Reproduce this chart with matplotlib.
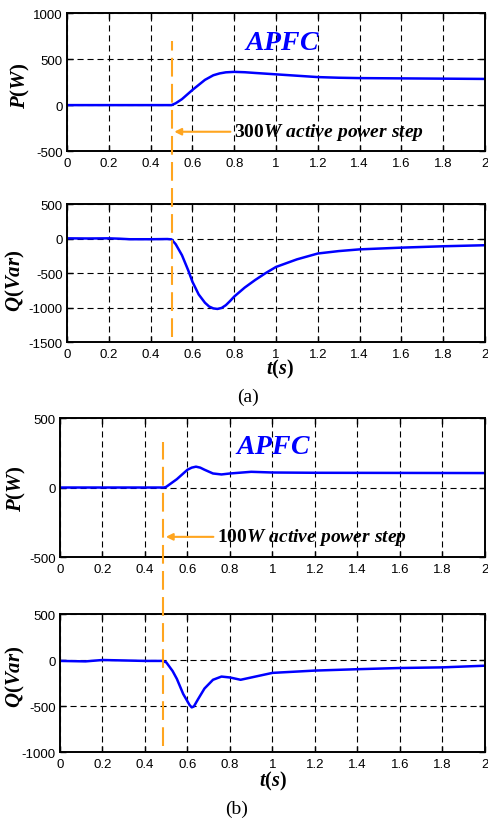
import matplotlib
matplotlib.use('Agg')
import matplotlib.pyplot as plt
import matplotlib.transforms as mtransforms

plt.rcParams['font.family'] = ['Liberation Sans', 'DejaVu Sans']
plt.rcParams['mathtext.fontset'] = 'custom'
plt.rcParams['mathtext.rm'] = 'Liberation Serif:bold'
plt.rcParams['mathtext.it'] = 'Liberation Serif:italic:bold'
plt.rcParams['mathtext.bf'] = 'Liberation Serif:bold'

# (a) 300W step
t_pa = [0, 0.1, 0.2, 0.3, 0.4, 0.5, 0.52, 0.55, 0.58, 0.6, 0.63, 0.66, 0.7, 0.73, 0.76,
        0.8, 0.85, 0.9, 1.0, 1.1, 1.2, 1.3, 1.4, 1.6, 1.8, 2.0]
p_a = [0, 0, 0, 0, 0, 0, 20, 65, 125, 165, 220, 275, 325, 345, 357,
       362, 358, 350, 335, 320, 305, 298, 294, 291, 288, 285]
t_qa = [0, 0.1, 0.2, 0.25, 0.3, 0.4, 0.48, 0.5, 0.52, 0.55, 0.58, 0.6, 0.63, 0.66, 0.68,
        0.7, 0.72, 0.74, 0.76, 0.78, 0.8, 0.85, 0.9, 0.95, 1.0, 1.1, 1.2, 1.3, 1.4, 1.6,
        1.8, 2.0]
q_a = [5, 3, 5, 0, -8, -8, -5, -10, -80, -240, -460, -625, -810, -930, -985,
       -1012, -1020, -1005, -965, -905, -840, -710, -600, -500, -410, -300, -215, -180, -155, -130,
       -110, -95]

# (b) 100W step
t_pb = [0, 0.1, 0.2, 0.3, 0.4, 0.49, 0.5, 0.55, 0.6, 0.62, 0.64, 0.66, 0.68, 0.72, 0.76,
        0.8, 0.9, 1.0, 1.2, 1.6, 2.0]
p_b = [0, 0, 0, 0, 0, 0, 5, 60, 128, 143, 150, 143, 128, 101, 94,
       101, 113, 108, 106, 105, 104]
t_qb = [0, 0.12, 0.2, 0.3, 0.4, 0.48, 0.5, 0.53, 0.55, 0.58, 0.6, 0.61, 0.62, 0.63, 0.65,
        0.68, 0.72, 0.76, 0.8, 0.85, 0.9, 1.0, 1.2, 1.4, 1.6, 1.8, 2.0]
q_b = [-10, -15, 0, -5, -10, -10, -25, -120, -205, -370, -450, -490, -515, -505, -425,
       -310, -215, -180, -190, -215, -190, -140, -115, -100, -87, -80, -62]

xticks = [0, 0.2, 0.4, 0.6, 0.8, 1.0, 1.2, 1.4, 1.6, 1.8, 2.0]
xlabels = ['0', '0.2', '0.4', '0.6', '0.8', '1', '1.2', '1.4', '1.6', '1.8', '2']

blue = '#0000ff'
orange = '#ffa51f'

fig = plt.figure(figsize=(4.89, 8.2), dpi=100)

def make_ax(rect, yl, yt, ylab, lx, ly):
    ax = fig.add_axes(rect)
    ax.set_xlim(0, 2)
    ax.set_ylim(*yl)
    ax.set_xticks(xticks)
    ax.set_xticklabels(xlabels)
    ax.set_yticks(yt)
    ax.set_yticklabels([str(v) for v in yt])
    ax.tick_params(direction='in', length=4, width=1, top=True, right=True,
                   labelsize=9.5, colors='black')
    ax.tick_params(axis='x', pad=4)
    ax.tick_params(axis='y', pad=3)
    ax.grid(True, color='black', linestyle=(0, (5.5, 3.5)), linewidth=0.8)
    for s in ax.spines.values():
        s.set_linewidth(1.4)
    ax.set_ylabel(ylab, fontsize=15)
    ax.yaxis.set_label_coords(lx, ly)
    return ax

ax1 = make_ax([0.137, 0.8146, 0.855, 0.168], (-500, 1000), [-500, 0, 500, 1000],
              r'$\mathit{P}\mathrm{(}\mathit{W}\mathrm{)}$', -0.084, 0.48)
ax2 = make_ax([0.137, 0.5817, 0.855, 0.168], (-1500, 500), [-1500, -1000, -500, 0, 500],
              r'$\mathit{Q}\mathrm{(}\mathit{Var}\mathrm{)}$', -0.096, 0.45)
ax3 = make_ax([0.1227, 0.3195, 0.869, 0.1695], (-500, 500), [-500, 0, 500],
              r'$\mathit{P}\mathrm{(}\mathit{W}\mathrm{)}$', -0.075, 0.5)
ax4 = make_ax([0.1227, 0.0817, 0.869, 0.1683], (-1000, 500), [-1000, -500, 0, 500],
              r'$\mathit{Q}\mathrm{(}\mathit{Var}\mathrm{)}$', -0.078, 0.55)

ax1.plot(t_pa, p_a, color=blue, lw=1.8)
ax2.plot(t_qa, q_a, color=blue, lw=1.8)
ax3.plot(t_pb, p_b, color=blue, lw=1.8)
ax4.plot(t_qb, q_b, color=blue, lw=1.8)

ax1.text(1.03, 690, r'$\mathit{APFC}$', color=blue, fontsize=20, ha='center', va='center')
ax3.text(1.005, 300, r'$\mathit{APFC}$', color=blue, fontsize=20, ha='center', va='center')

# step marker lines across both panels
tr2 = mtransforms.blended_transform_factory(ax2.transData, fig.transFigure)
ax2.plot([0.5, 0.5], [1 - 338 / 820, 1 - 42 / 820], transform=tr2, color=orange,
         lw=1.5, linestyle=(0, (9, 3.5)), clip_on=False, zorder=5)
tr4 = mtransforms.blended_transform_factory(ax4.transData, fig.transFigure)
ax4.plot([0.485, 0.485], [1 - 747 / 820, 1 - 443 / 820], transform=tr4, color=orange,
         lw=1.5, linestyle=(0, (9, 3.5)), clip_on=False, zorder=5)

ax1.annotate('', xy=(0.5, -290), xytext=(0.795, -290),
             arrowprops=dict(arrowstyle='-|>', color=orange, lw=1.5, mutation_scale=10))
ax1.text(0.8, -290, r'$\mathrm{300}\mathit{W\ active\ power\ step}$', fontsize=14,
         ha='left', va='center')
ax3.annotate('', xy=(0.485, -355), xytext=(0.735, -355),
             arrowprops=dict(arrowstyle='-|>', color=orange, lw=1.5, mutation_scale=10))
ax3.text(0.74, -355, r'$\mathrm{100}\mathit{W\ active\ power\ step}$', fontsize=14,
         ha='left', va='center')

fig.text(280 / 489, 1 - 369 / 820, r'$\mathit{t}\mathrm{(}\mathit{s}\mathrm{)}$',
         fontsize=14.5, ha='center', va='center')
fig.text(273 / 489, 1 - 781 / 820, r'$\mathit{t}\mathrm{(}\mathit{s}\mathrm{)}$',
         fontsize=14.5, ha='center', va='center')
fig.text(248 / 489, 1 - 397 / 820, '(a)', family='Liberation Serif', fontsize=14,
         ha='center', va='center')
fig.text(237 / 489, 1 - 809 / 820, '(b)', family='Liberation Serif', fontsize=14,
         ha='center', va='center')

fig.savefig('out.png', dpi=100)
